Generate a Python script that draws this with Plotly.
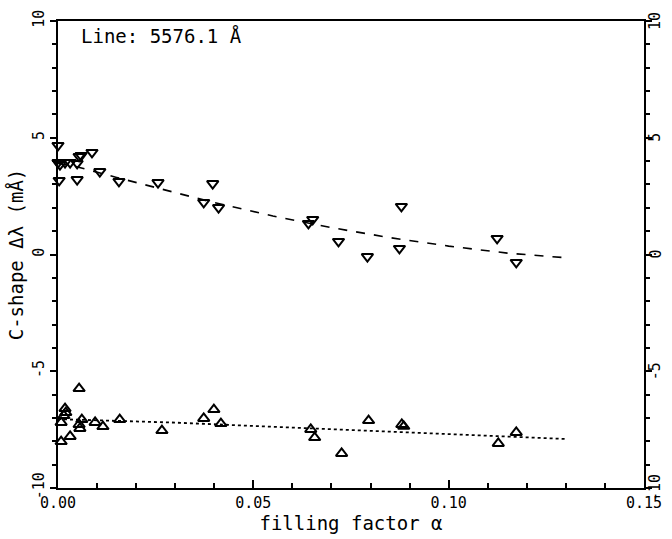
import plotly.graph_objects as go

# Upper branch (downward triangles)
up_x = [0.0, 0.0, 0.0005, 0.0018, 0.0031, 0.0049, 0.0054, 0.0059, 0.0087, 0.0107,
        0.0003, 0.0049, 0.0156, 0.0256, 0.0396, 0.0373, 0.0411, 0.0641, 0.0652, 0.0718,
        0.0792, 0.0879, 0.0874, 0.1124, 0.1173]
up_y = [4.67, 3.94, 3.85, 3.94, 3.94, 3.90, 4.20, 4.24, 4.37, 3.55,
        3.17, 3.21, 3.13, 3.08, 3.04, 2.23, 2.01, 1.33, 1.50, 0.56,
        -0.09, 2.06, 0.26, 0.69, -0.34]

# Lower branch (upward triangles)
lo_x = [0.0054, 0.0018, 0.0020, 0.0015, 0.0008, 0.0061, 0.0054, 0.0056, 0.0031, 0.0008,
        0.0095, 0.0115, 0.0158, 0.0266, 0.0399, 0.0373, 0.0417, 0.0647, 0.0657, 0.0726,
        0.0795, 0.0880, 0.0885, 0.1127, 0.1173]
lo_y = [-5.74, -6.60, -6.77, -6.90, -7.19, -7.07, -7.28, -7.45, -7.79, -8.01,
        -7.19, -7.37, -7.07, -7.54, -6.64, -7.02, -7.24, -7.49, -7.84, -8.52,
        -7.11, -7.28, -7.36, -8.09, -7.62]

# Fit curves
fit_up_x = [0.0, 0.005, 0.015, 0.025, 0.04, 0.055, 0.07, 0.085, 0.10, 0.115, 0.13]
fit_up_y = [3.90, 3.75, 3.30, 2.88, 2.22, 1.65, 1.15, 0.72, 0.36, 0.06, -0.14]
fit_lo_x = [0.0, 0.03, 0.061, 0.1227, 0.13]
fit_lo_y = [-7.05, -7.20, -7.42, -7.84, -7.90]

x_tickvals = [0.0, 0.05, 0.10, 0.15]
x_ticktext = ["0.00", "0.05", "0.10", "0.15"]
y_tickvals = [-10, -5, 0, 5, 10]
y_ticktext = ["-10", "-5", "0", "5", "10"]

FONT = "DejaVu Sans Mono"

fig = go.Figure()
fig.add_trace(go.Scatter(x=fit_up_x, y=fit_up_y, mode="lines",
                         line=dict(color="black", width=1.6, dash="dash"),
                         showlegend=False, hoverinfo="skip"))
fig.add_trace(go.Scatter(x=fit_lo_x, y=fit_lo_y, mode="lines",
                         line=dict(color="black", width=1.8, dash="dot"),
                         showlegend=False, hoverinfo="skip"))
fig.add_trace(go.Scatter(x=up_x, y=up_y, mode="markers", cliponaxis=False,
                         marker=dict(symbol="triangle-down-open", size=10, color="black",
                                     line=dict(width=2, color="black")),
                         showlegend=False))
fig.add_trace(go.Scatter(x=lo_x, y=lo_y, mode="markers", cliponaxis=False,
                         marker=dict(symbol="triangle-up-open", size=10, color="black",
                                     line=dict(width=2, color="black")),
                         showlegend=False))

# right-side tick labels (rotated), as annotations
right_labels = [dict(text=t, xref="paper", yref="y", x=1.0, y=v, xanchor="left",
                     yanchor="middle", xshift=1, textangle=-90, showarrow=False,
                     borderpad=0, font=dict(family=FONT, size=15))
                for v, t in zip(y_tickvals, y_ticktext)]

fig.update_layout(
    width=672, height=539,
    margin=dict(l=58, r=28, t=21, b=51),
    paper_bgcolor="white", plot_bgcolor="white",
    font=dict(family=FONT, color="black", size=15),
    xaxis=dict(range=[0, 0.15], tickvals=x_tickvals, ticktext=x_ticktext,
               ticks="inside", ticklen=8, tickwidth=1.5, tickcolor="black",
               minor=dict(dtick=0.01, tick0=0, ticks="inside", ticklen=5, tickcolor="black"),
               showline=True, linecolor="black", linewidth=1.5, mirror=True,
               showgrid=False, zeroline=False, automargin=False,
               tickfont=dict(family=FONT, size=15),
               title=dict(text="filling factor α", font=dict(family=FONT, size=19), standoff=4)),
    yaxis=dict(range=[-10, 10], tickvals=y_tickvals, ticktext=y_ticktext,
               ticks="outside", ticklen=6, tickwidth=1.5, tickcolor="black",
               minor=dict(dtick=1, tick0=0, ticks="outside", ticklen=4, tickcolor="black"),
               showline=True, linecolor="black", linewidth=1.5, mirror="allticks",
               showgrid=False, zeroline=False, tickangle=-90, automargin=False,
               tickfont=dict(family=FONT, size=15),
               title=dict(text="C-shape Δλ (mÅ)", font=dict(family=FONT, size=19), standoff=2)),
    annotations=[dict(text="Line: 5576.1 Å", xref="paper", yref="paper",
                      x=0.035, y=0.995, xanchor="left", yanchor="top", showarrow=False,
                      font=dict(family=FONT, size=19))] + right_labels,
)

fig.write_html("out.html")
